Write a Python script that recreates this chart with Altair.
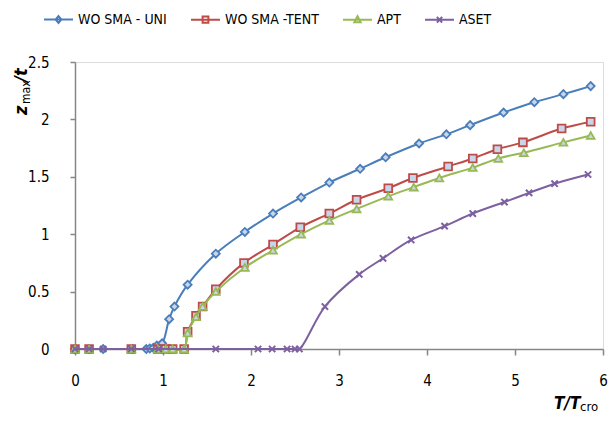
import altair as alt
import pandas as pd

# ---- data ----
series_names = ["WO SMA - UNI", "WO SMA -TENT", "APT", "ASET"]
series_colors = ["#4A7EBB", "#BE4B48", "#98B954", "#7D60A0"]

uni_x = [0, 0.16, 0.32, 0.65, 0.81, 0.85, 0.89, 0.93, 0.99, 1.07, 1.13, 1.28, 1.6, 1.93, 2.25,
         2.57, 2.89, 3.24, 3.53, 3.91, 4.22, 4.49, 4.87, 5.22, 5.55, 5.86]
uni_y = [0, 0, 0, 0, 0, 0.005, 0.01, 0.03, 0.05, 0.26, 0.37, 0.56, 0.83, 1.02, 1.18,
         1.32, 1.45, 1.57, 1.67, 1.79, 1.87, 1.95, 2.06, 2.15, 2.22, 2.29]

tent_x = [0, 0.16, 0.64, 0.94, 1.03, 1.11, 1.24, 1.28, 1.375, 1.45, 1.6, 1.92, 2.25, 2.56,
          2.89, 3.2, 3.56, 3.84, 4.24, 4.52, 4.8, 5.09, 5.53, 5.86]
tent_y = [0, 0, 0, 0, 0, 0, 0, 0.15, 0.29, 0.37, 0.52, 0.75, 0.91, 1.06,
          1.18, 1.30, 1.40, 1.49, 1.59, 1.66, 1.74, 1.80, 1.92, 1.98]

apt_x = [0, 0.16, 0.64, 0.94, 1.03, 1.11, 1.24, 1.28, 1.375, 1.45, 1.6, 1.93, 2.25, 2.57,
         2.89, 3.2, 3.56, 3.85, 4.14, 4.52, 4.81, 5.1, 5.55, 5.86]
apt_y = [0, 0, 0, 0, 0, 0, 0, 0.14, 0.28, 0.37, 0.50, 0.71, 0.86, 1.00,
         1.12, 1.22, 1.33, 1.41, 1.49, 1.58, 1.66, 1.71, 1.80, 1.86]

aset_x = [0, 0.16, 0.32, 0.64, 0.95, 1.6, 2.08, 2.24, 2.41, 2.5, 2.55,
          2.84, 3.23, 3.5, 3.82, 4.2, 4.52, 4.88, 5.16, 5.45, 5.83]
aset_y = [0, 0, 0, 0, 0, 0, 0, 0, 0, 0, 0,
          0.37, 0.65, 0.79, 0.95, 1.07, 1.18, 1.28, 1.36, 1.44, 1.52]

x_ticks = [0, 1, 2, 3, 4, 5, 6]
y_ticks = [0, 0.5, 1, 1.5, 2, 2.5]

FONT = "DejaVu Sans Condensed"
MARKER_FILL = "#C9D6EA"

frames = []
for name, xs, ys in [(series_names[0], uni_x, uni_y), (series_names[1], tent_x, tent_y),
                     (series_names[2], apt_x, apt_y), (series_names[3], aset_x, aset_y)]:
    frames.append(pd.DataFrame({"x": xs, "y": ys, "series": name}))
df = pd.concat(frames, ignore_index=True)

xenc = alt.X("x:Q", scale=alt.Scale(domain=[0, 6], nice=False),
             axis=alt.Axis(values=x_ticks, title=None, grid=False, format="~g",
                           labelFlush=False, tickSize=6, labelPadding=18,
                           domainColor="#868686", tickColor="#868686",
                           domainWidth=1.5, tickWidth=1.5,
                           labelFontSize=15, labelFont=FONT, labelColor="#000"))
yenc = alt.Y("y:Q", scale=alt.Scale(domain=[0, 2.5], nice=False),
             axis=alt.Axis(values=y_ticks, title=None, grid=False, format="~g",
                           labelFlush=False, tickSize=5, labelPadding=21,
                           domainColor="#868686", tickColor="#868686",
                           domainWidth=1.5, tickWidth=1.5,
                           labelFontSize=15, labelFont=FONT, labelColor="#000"))

shapes_plot = ["diamond", "square", "triangle-up",
               "M-1,-1L1,1M-1,1L1,-1"]
sizes_plot = [64, 60, 60, 40]

layers = []
for i, name in enumerate(series_names):
    sub = alt.Chart(df).transform_filter(alt.datum.series == name)
    line = sub.mark_line(interpolate="catmull-rom", strokeWidth=2,
                         color=series_colors[i]).encode(x=xenc, y=yenc, order="x:Q")
    pts = sub.mark_point(shape=shapes_plot[i], size=sizes_plot[i], filled=False,
                         fill=MARKER_FILL if i < 3 else None, opacity=1,
                         fillOpacity=1, strokeWidth=1.8 if i < 3 else 2,
                         color=series_colors[i]).encode(x="x:Q", y="y:Q")
    layers += [line, pts]

legend_paths = [
    "M-1,0L1,0M0,-0.24L0.2,0L0,0.24L-0.2,0Z",
    "M-1,0L1,0M-0.2,-0.22L0.2,-0.22L0.2,0.22L-0.2,0.22Z",
    "M-1,0L1,0M0,-0.24L0.22,0.18L-0.22,0.18Z",
    "M-1,0L1,0M-0.18,-0.2L0.18,0.2M-0.18,0.2L0.18,-0.2",
]
leg = alt.Legend(title=None, orient="none", direction="horizontal", columns=4,
                 legendX=-32, legendY=-58, symbolSize=841, symbolStrokeWidth=2,
                 symbolOpacity=1, symbolFillColor=MARKER_FILL, labelFont=FONT,
                 labelFontSize=14, labelColor="#000", columnPadding=20, labelOffset=4)
legend_layer = alt.Chart(df).mark_point(opacity=0, filled=False).encode(
    x="x:Q", y="y:Q",
    color=alt.Color("series:N", scale=alt.Scale(domain=series_names, range=series_colors), legend=leg),
    shape=alt.Shape("series:N", scale=alt.Scale(domain=series_names, range=legend_paths), legend=leg),
)
layers.append(legend_layer)

# axis titles with subscripts
tdf = pd.DataFrame({"t": ["a"]})
def txt(s, x, y, size, bold, italic, angle=0):
    return alt.Chart(tdf).mark_text(text=s, font=FONT, fontSize=size,
                                    fontWeight="bold" if bold else "normal",
                                    fontStyle="italic" if italic else "normal",
                                    align="left", baseline="alphabetic", angle=angle,
                                    color="#000").encode(x=alt.value(x), y=alt.value(y))

layers += [
    txt("z", -48, 53, 18, True, True, 270),
    txt("max", -45, 42, 12, False, False, 270),
    txt("/t", -48, 20, 18, True, True, 270),
    txt("T/T", 479, 347, 17, True, True),
    txt("cro", 505, 349, 13, False, False),
]

chart = alt.layer(*layers).properties(
    width=528, height=287,
    autosize=alt.AutoSizeParams(type="none"),
    padding={"left": 67, "top": 54, "right": 5, "bottom": 65},
).configure_view(stroke=None).configure(background="white")

chart.save("out.html", embed_options={"renderer": "svg", "actions": False})
